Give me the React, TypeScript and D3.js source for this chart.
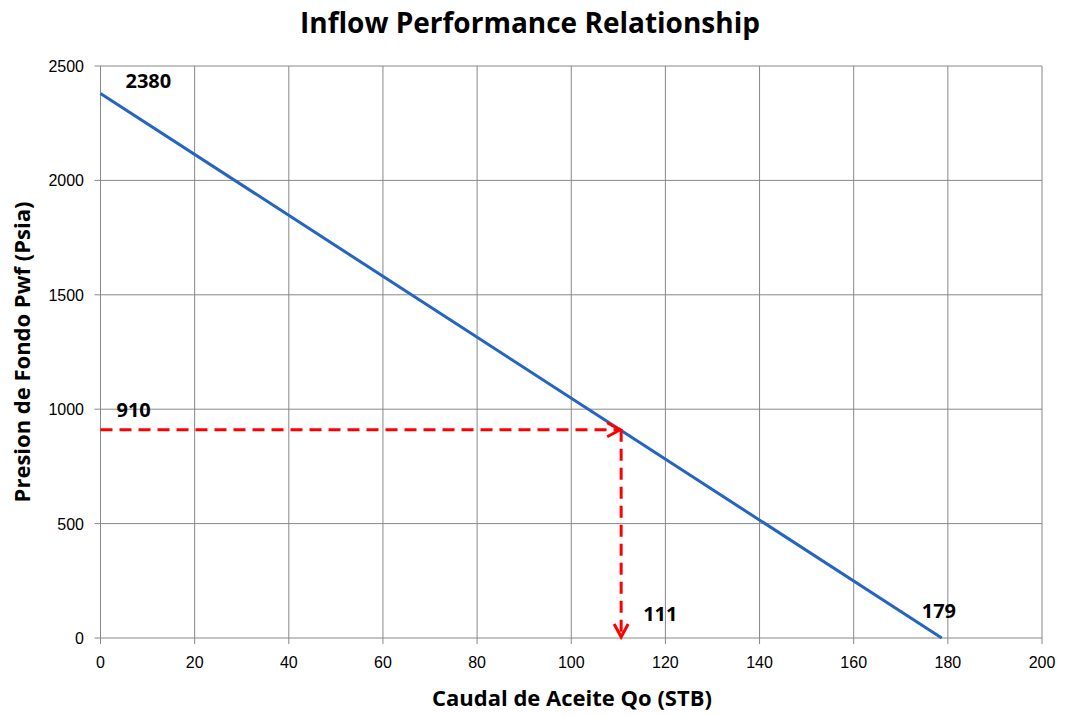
import React from "react";
import * as d3 from "d3";

const xTicks = [0, 20, 40, 60, 80, 100, 120, 140, 160, 180, 200];
const yTicks = [0, 500, 1000, 1500, 2000, 2500];
const iprQ = [0, 178.7];
const iprP = [2380, 0];
const opQ = 110.6;
const opP = 910;
const labels = [
  { text: "2380", q: 0, p: 2380, dx: 25, dy: -5 },
  { text: "910", q: 0, p: 910, dx: 16, dy: -13 },
  { text: "111", q: 110.6, p: 0, dx: 22, dy: -17 },
  { text: "179", q: 178.7, p: 0, dx: -20, dy: -20 },
];

const W = 1068, H = 716;
const L = 100.5, R = 1042, T = 66, B = 638;

export default function App() {
  const x = d3.scaleLinear().domain([0, 200]).range([L, R]);
  const y = d3.scaleLinear().domain([0, 2500]).range([B, T]);
  const line = d3.line<number>().x((d, i) => x(iprQ[i])).y((d, i) => y(iprP[i]));
  const font = "'Liberation Sans', Arial, sans-serif";
  const boldFont = "'Open Sans', 'DejaVu Sans', sans-serif";
  const ax = x(opQ), ay = y(opP);
  return (
    <svg width={W} height={H} style={{ position: "absolute", left: 0, top: 0, background: "#fff" }}>
      <rect width={W} height={H} fill="#fff" />
      {xTicks.map((t) => (
        <line key={"gx" + t} x1={x(t)} x2={x(t)} y1={T} y2={B + 6} stroke="#888" strokeWidth={1} />
      ))}
      {yTicks.map((t) => (
        <line key={"gy" + t} x1={L - 6} x2={R} y1={y(t)} y2={y(t)} stroke="#888" strokeWidth={1} />
      ))}
      {xTicks.map((t) => (
        <text key={"tx" + t} x={x(t)} y={668} textAnchor="middle" fontFamily={font} fontSize={16} fill="#000">{t}</text>
      ))}
      {yTicks.map((t) => (
        <text key={"ty" + t} x={84} y={y(t) + 6} textAnchor="end" fontFamily={font} fontSize={16} fill="#000">{t}</text>
      ))}
      <path d={line(iprQ) || ""} fill="none" stroke="#2365C0" strokeWidth={3} />
      <line x1={L} x2={ax - 2} y1={ay} y2={ay} stroke="#FF0000" strokeWidth={3} strokeDasharray="12,7" />
      <polyline points={`${ax - 14},${ay - 7} ${ax - 1},${ay} ${ax - 14},${ay + 7}`} fill="none" stroke="#FF0000" strokeWidth={3} />
      <line x1={ax} x2={ax} y1={ay} y2={B - 2} stroke="#FF0000" strokeWidth={3} strokeDasharray="12,7" />
      <polyline points={`${ax - 7},${B - 14} ${ax},${B - 1} ${ax + 7},${B - 14}`} fill="none" stroke="#FF0000" strokeWidth={3} />
      {labels.map((l) => (
        <text key={l.text} x={x(l.q) + l.dx} y={y(l.p) + l.dy} fontFamily={boldFont} fontWeight="bold" fontSize={20} fill="#000">{l.text}</text>
      ))}
      <text x={530} y={33} textAnchor="middle" fontFamily={boldFont} fontWeight="bold" fontSize={28} fill="#000">Inflow Performance Relationship</text>
      <text x={572} y={706} textAnchor="middle" fontFamily={boldFont} fontWeight="bold" fontSize={22} fill="#000">Caudal de Aceite Qo (STB)</text>
      <text transform={`translate(30,352) rotate(-90)`} textAnchor="middle" fontFamily={boldFont} fontWeight="bold" fontSize={22} fill="#000">Presion de Fondo Pwf  (Psia)</text>
    </svg>
  );
}
